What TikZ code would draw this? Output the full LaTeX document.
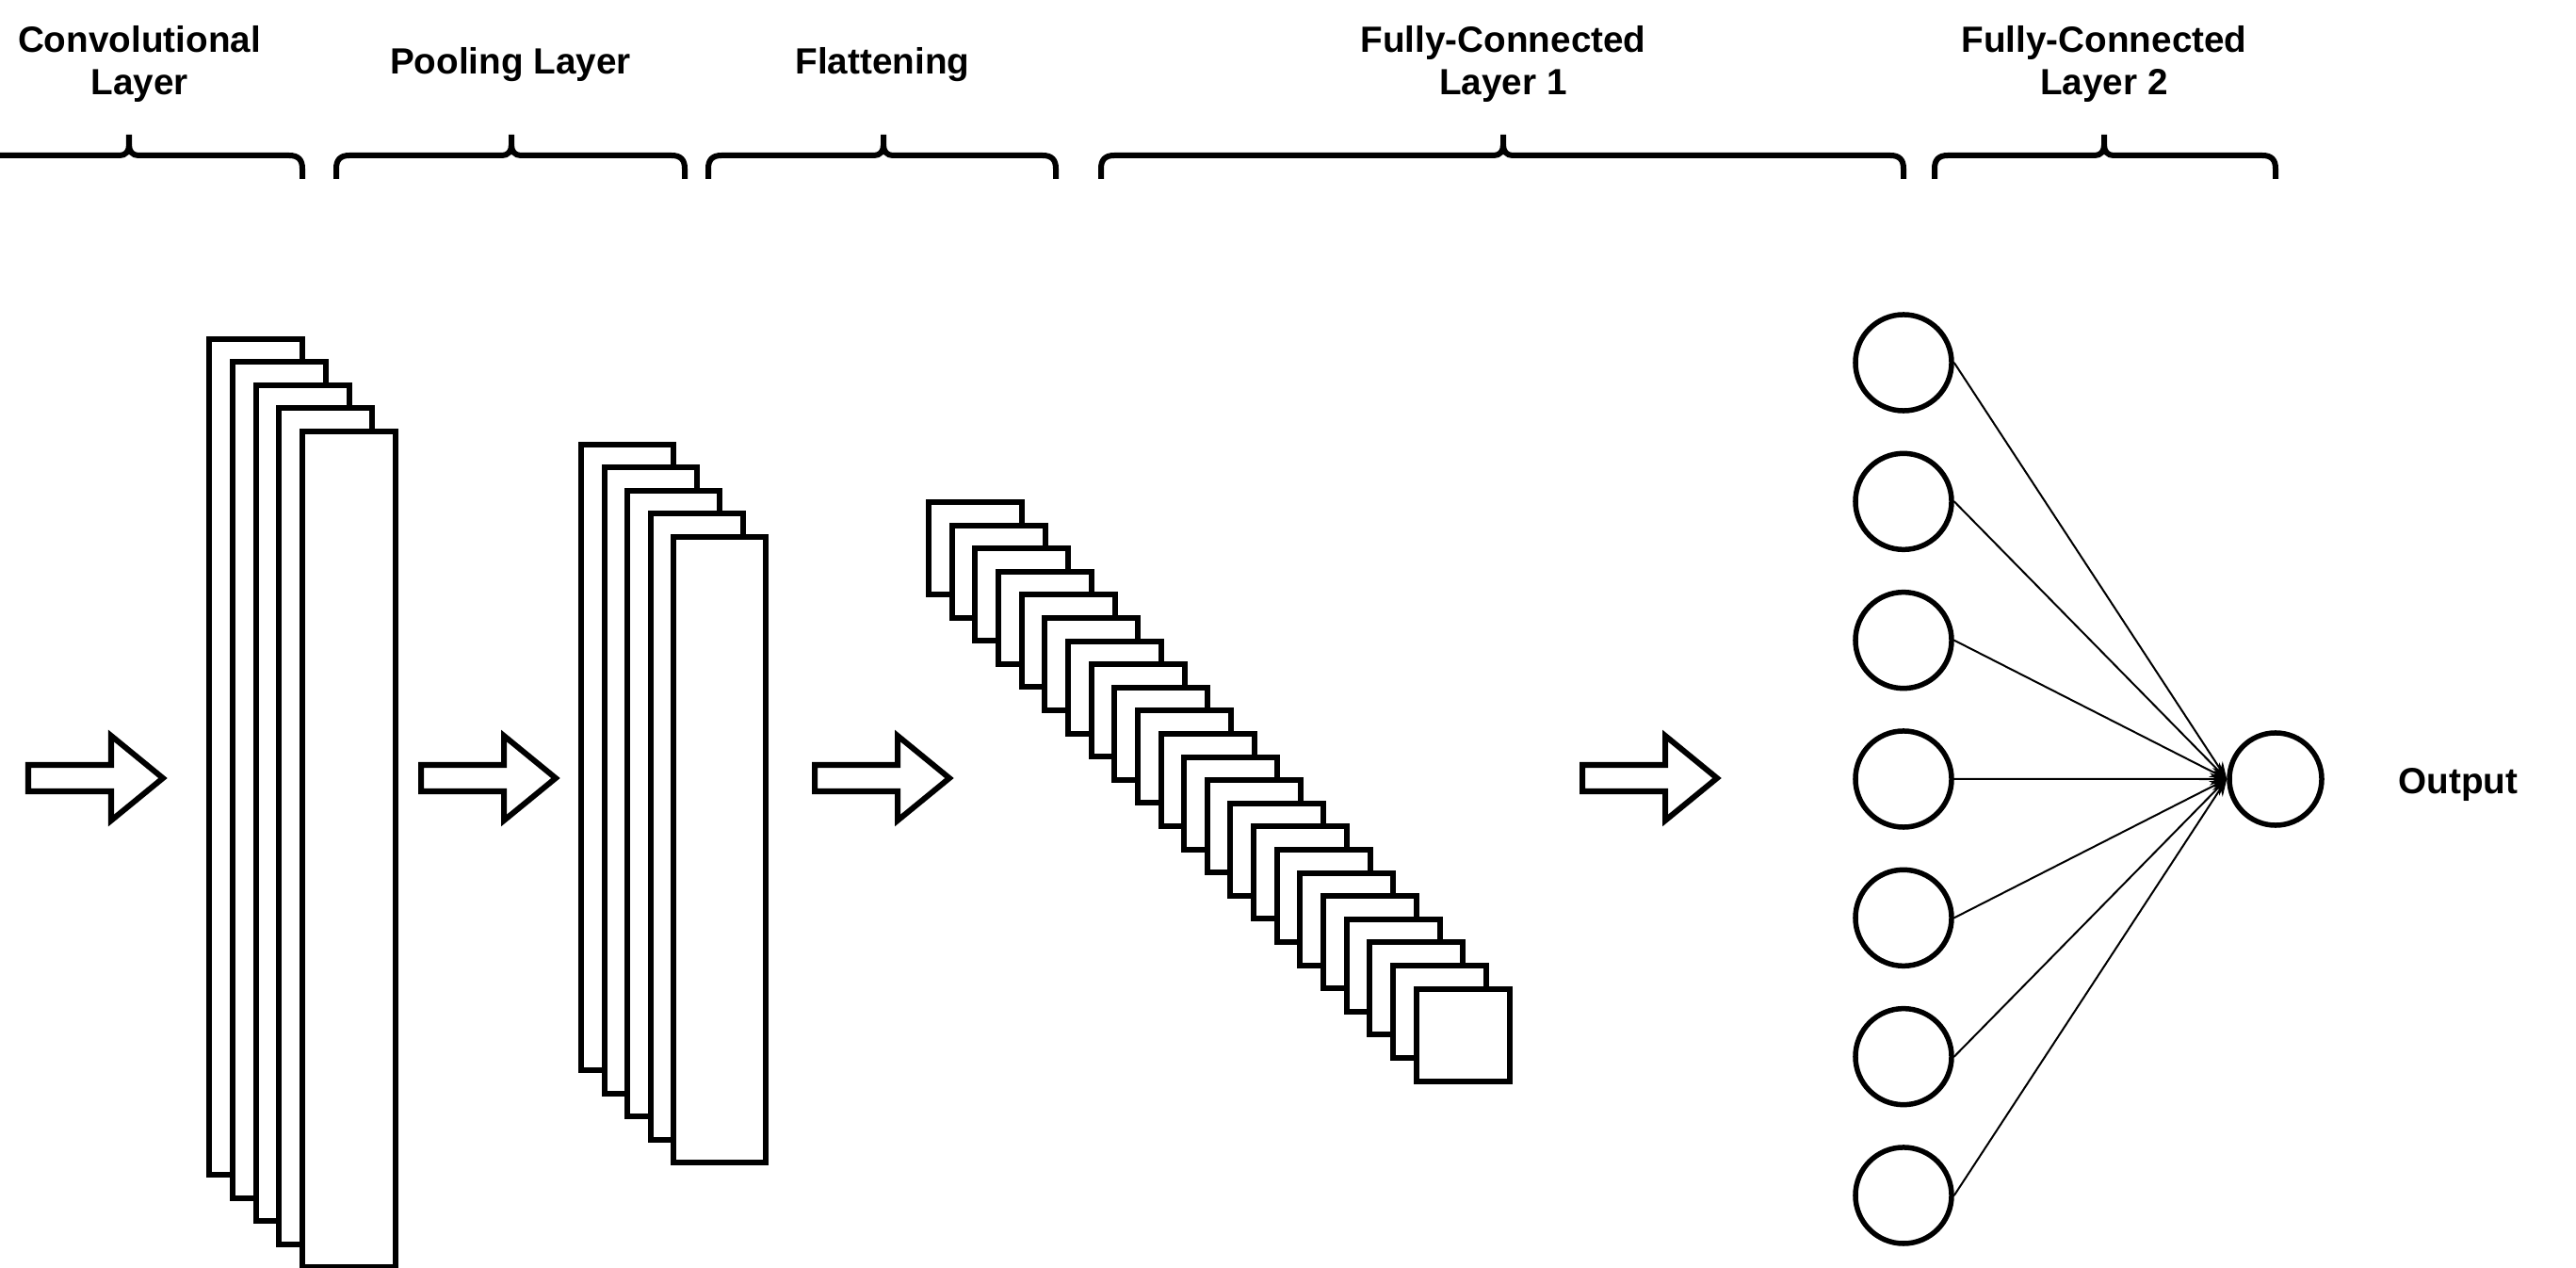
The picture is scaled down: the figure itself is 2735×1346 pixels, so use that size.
\documentclass[tikz,border=0pt]{standalone}
\usepackage{fontspec}
\setmainfont{Liberation Sans}
\usetikzlibrary{arrows.meta}

% curly brace over a stage: left end, tip, right end (x in 0.01cm units)
\newcommand\layerbrace[3]{%
  \draw[bracestyle] (#1,190) -- (#1,179)
    .. controls (#1,170) and ({#1+4},165) .. ({#1+14},165)
    -- ({#2-10},165)
    .. controls ({#2-4},165) and (#2,161) .. (#2,154)
    -- (#2,143);
  \draw[bracestyle] (#2,154)
    .. controls (#2,161) and ({#2+4},165) .. ({#2+10},165)
    -- ({#3-14},165)
    .. controls ({#3-4},165) and (#3,170) .. (#3,179)
    -- (#3,190);
}

\tikzset{
  bracestyle/.style={line width=0.06cm, line cap=butt},
  headtext/.style={font=\bfseries\fontsize{11}{12.8}\selectfont, align=center, inner sep=0pt},
  sheet/.style={draw, fill=white, line width=0.06cm},
  arrowline/.style={draw, fill=white, line width=0.06cm, line join=miter},
  neuron/.style={circle, draw, fill=white, line width=0.055cm, minimum size=1.02cm, inner sep=0pt},
  outneuron/.style={neuron, minimum size=0.98cm},
  link/.style={line width=0.02cm, -{Stealth[length=0.18cm,width=0.13cm]}},
  flowarrow/.pic={\draw[arrowline] (0,-14) -- (88,-14) -- (88,-45) -- (143,0)
      -- (88,45) -- (88,14) -- (0,14) -- cycle;}
}

\begin{document}
\begin{tikzpicture}[x=0.01cm, y=-0.01cm]
  \path[use as bounding box, fill=white] (0,0) rectangle (2735,1346);

  % stage headings
  \node[headtext, anchor=north] (tconv) at (148,27) {Convolutional\\Layer};
  \node[headtext, anchor=north] (tpool) at (542,50) {Pooling Layer};
  \node[headtext, anchor=north] (tflat) at (937,50) {Flattening};
  \node[headtext, anchor=north] (tfc1) at (1596,27) {Fully-Connected\\Layer 1};
  \node[headtext, anchor=north] (tfc2) at (2234,27) {Fully-Connected\\Layer 2};

  % braces under the headings
  \layerbrace{-47}{137}{321}
  \layerbrace{357}{543}{727}
  \layerbrace{752}{938}{1121}
  \layerbrace{1169}{1596}{2021}
  \layerbrace{2054}{2234}{2416}

  % flow arrows between stages
  \pic at (30,826) {flowarrow};
  \pic at (447,826) {flowarrow};
  \pic at (865,826) {flowarrow};
  \pic at (1680,826) {flowarrow};

  % convolutional feature maps
  \foreach \i in {0,...,4}
    \draw[sheet] ({222+24.75*\i},{360+24.5*\i}) rectangle ++(99,887);

  % pooled feature maps
  \foreach \i in {0,...,4}
    \draw[sheet] ({617+24.5*\i},{472+24.5*\i}) rectangle ++(98,664);

  % flattened vector
  \foreach \i in {0,...,21}
    \draw[sheet] ({986+24.65*\i},{533+24.6*\i}) rectangle ++(99,98);

  % fully-connected layers
  \foreach \i [evaluate=\i as \yy using {385+147.33*(\i-1)}] in {1,...,7}
    \node[neuron] (h\i) at (2021,\yy) {};
  \node[outneuron] (out) at (2416,827) {};
  \foreach \i in {1,...,7}
    \draw[link] (h\i.east) -- (out.west);

  \node[headtext, anchor=base] (tout) at (2610,842) {Output};
\end{tikzpicture}
\end{document}
